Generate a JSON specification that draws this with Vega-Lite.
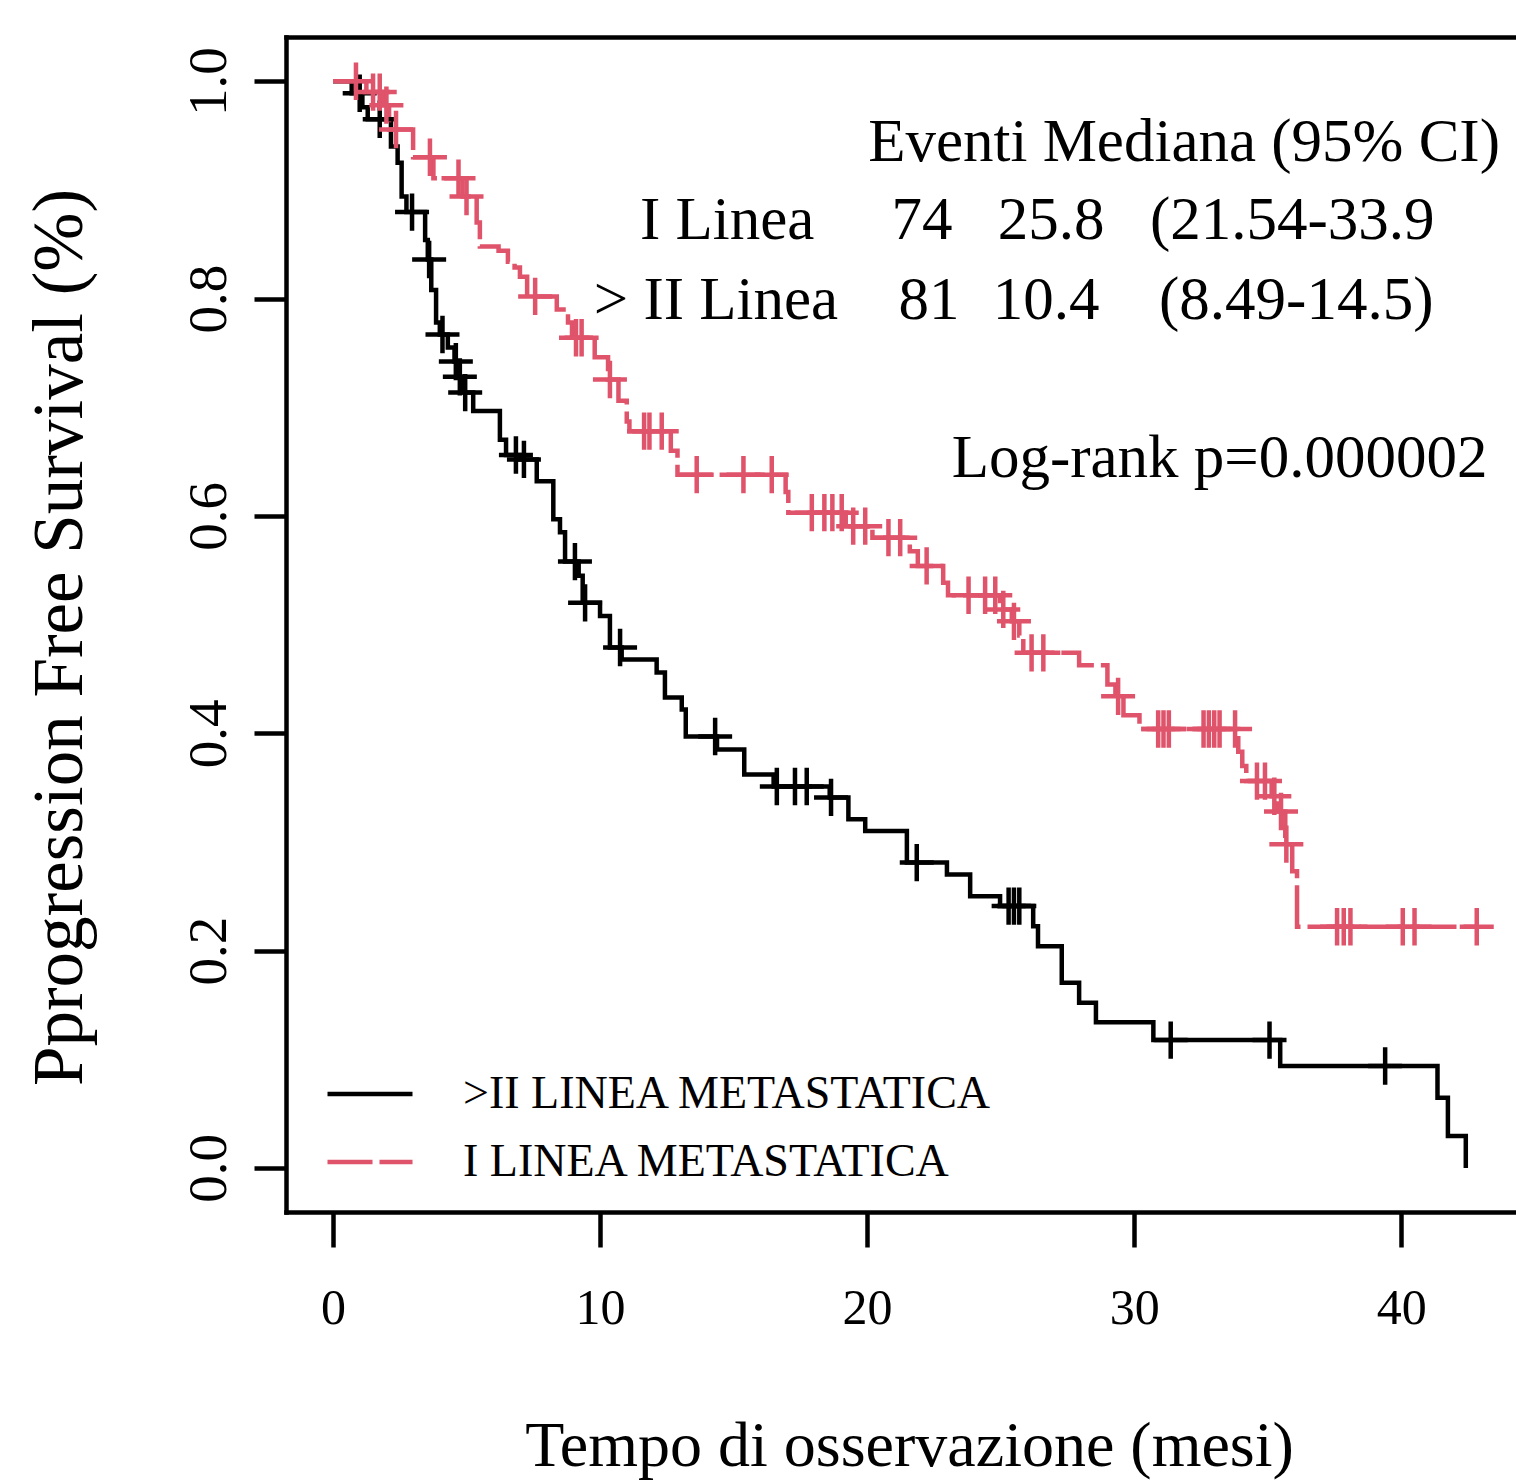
{
  "$schema": "https://vega.github.io/schema/vega-lite/v6.json",
  "width": 1230,
  "height": 1175,
  "autosize": {"type": "none"},
  "padding": {"left": 286, "top": 37, "right": 0, "bottom": 271},
  "background": "white",
  "config": {"view": {"stroke": null}, "font": "Liberation Serif"},
  "datasets": {
    "km": [
      {"grp": ">II LINEA METASTATICA", "t": 0, "s": 1},
      {"grp": ">II LINEA METASTATICA", "t": 0.7, "s": 0.989},
      {"grp": ">II LINEA METASTATICA", "t": 1.1, "s": 0.976},
      {"grp": ">II LINEA METASTATICA", "t": 1.3, "s": 0.965},
      {"grp": ">II LINEA METASTATICA", "t": 2.17, "s": 0.94},
      {"grp": ">II LINEA METASTATICA", "t": 2.42, "s": 0.925},
      {"grp": ">II LINEA METASTATICA", "t": 2.57, "s": 0.894},
      {"grp": ">II LINEA METASTATICA", "t": 2.75, "s": 0.8796},
      {"grp": ">II LINEA METASTATICA", "t": 3.45, "s": 0.854},
      {"grp": ">II LINEA METASTATICA", "t": 3.55, "s": 0.836},
      {"grp": ">II LINEA METASTATICA", "t": 3.68, "s": 0.808},
      {"grp": ">II LINEA METASTATICA", "t": 3.86, "s": 0.778},
      {"grp": ">II LINEA METASTATICA", "t": 4.0, "s": 0.767},
      {"grp": ">II LINEA METASTATICA", "t": 4.3, "s": 0.755},
      {"grp": ">II LINEA METASTATICA", "t": 4.55, "s": 0.742},
      {"grp": ">II LINEA METASTATICA", "t": 4.7, "s": 0.728},
      {"grp": ">II LINEA METASTATICA", "t": 4.85, "s": 0.7135},
      {"grp": ">II LINEA METASTATICA", "t": 5.25, "s": 0.6965},
      {"grp": ">II LINEA METASTATICA", "t": 6.25, "s": 0.67},
      {"grp": ">II LINEA METASTATICA", "t": 6.48, "s": 0.656},
      {"grp": ">II LINEA METASTATICA", "t": 7.0, "s": 0.652},
      {"grp": ">II LINEA METASTATICA", "t": 7.63, "s": 0.632},
      {"grp": ">II LINEA METASTATICA", "t": 8.25, "s": 0.597},
      {"grp": ">II LINEA METASTATICA", "t": 8.5, "s": 0.585},
      {"grp": ">II LINEA METASTATICA", "t": 8.69, "s": 0.558},
      {"grp": ">II LINEA METASTATICA", "t": 9.2, "s": 0.545},
      {"grp": ">II LINEA METASTATICA", "t": 9.35, "s": 0.52},
      {"grp": ">II LINEA METASTATICA", "t": 10.0, "s": 0.508},
      {"grp": ">II LINEA METASTATICA", "t": 10.37, "s": 0.479},
      {"grp": ">II LINEA METASTATICA", "t": 10.81, "s": 0.468},
      {"grp": ">II LINEA METASTATICA", "t": 12.12, "s": 0.456},
      {"grp": ">II LINEA METASTATICA", "t": 12.43, "s": 0.433},
      {"grp": ">II LINEA METASTATICA", "t": 13.06, "s": 0.422},
      {"grp": ">II LINEA METASTATICA", "t": 13.21, "s": 0.397},
      {"grp": ">II LINEA METASTATICA", "t": 14.38, "s": 0.385},
      {"grp": ">II LINEA METASTATICA", "t": 15.4, "s": 0.362},
      {"grp": ">II LINEA METASTATICA", "t": 16.5, "s": 0.351},
      {"grp": ">II LINEA METASTATICA", "t": 18.6, "s": 0.341},
      {"grp": ">II LINEA METASTATICA", "t": 19.3, "s": 0.321},
      {"grp": ">II LINEA METASTATICA", "t": 19.93, "s": 0.31},
      {"grp": ">II LINEA METASTATICA", "t": 21.49, "s": 0.281},
      {"grp": ">II LINEA METASTATICA", "t": 22.99, "s": 0.27},
      {"grp": ">II LINEA METASTATICA", "t": 23.86, "s": 0.25},
      {"grp": ">II LINEA METASTATICA", "t": 24.98, "s": 0.241},
      {"grp": ">II LINEA METASTATICA", "t": 26.22, "s": 0.2225},
      {"grp": ">II LINEA METASTATICA", "t": 26.4, "s": 0.204},
      {"grp": ">II LINEA METASTATICA", "t": 27.29, "s": 0.1705},
      {"grp": ">II LINEA METASTATICA", "t": 27.94, "s": 0.152},
      {"grp": ">II LINEA METASTATICA", "t": 28.57, "s": 0.134},
      {"grp": ">II LINEA METASTATICA", "t": 30.72, "s": 0.1177},
      {"grp": ">II LINEA METASTATICA", "t": 35.47, "s": 0.0938},
      {"grp": ">II LINEA METASTATICA", "t": 41.36, "s": 0.0647},
      {"grp": ">II LINEA METASTATICA", "t": 41.75, "s": 0.0294},
      {"grp": ">II LINEA METASTATICA", "t": 42.42, "s": 0},
      {"grp": "I LINEA METASTATICA", "t": 0, "s": 1},
      {"grp": "I LINEA METASTATICA", "t": 1.25, "s": 0.99},
      {"grp": "I LINEA METASTATICA", "t": 1.9, "s": 0.978},
      {"grp": "I LINEA METASTATICA", "t": 2.1, "s": 0.9556},
      {"grp": "I LINEA METASTATICA", "t": 3.0, "s": 0.93},
      {"grp": "I LINEA METASTATICA", "t": 3.76, "s": 0.9107},
      {"grp": "I LINEA METASTATICA", "t": 4.85, "s": 0.894},
      {"grp": "I LINEA METASTATICA", "t": 5.38, "s": 0.87},
      {"grp": "I LINEA METASTATICA", "t": 5.5, "s": 0.848},
      {"grp": "I LINEA METASTATICA", "t": 6.2, "s": 0.844},
      {"grp": "I LINEA METASTATICA", "t": 6.55, "s": 0.834},
      {"grp": "I LINEA METASTATICA", "t": 6.8, "s": 0.8286},
      {"grp": "I LINEA METASTATICA", "t": 7.0, "s": 0.82},
      {"grp": "I LINEA METASTATICA", "t": 7.27, "s": 0.802},
      {"grp": "I LINEA METASTATICA", "t": 8.38, "s": 0.79},
      {"grp": "I LINEA METASTATICA", "t": 8.8, "s": 0.778},
      {"grp": "I LINEA METASTATICA", "t": 8.95, "s": 0.764},
      {"grp": "I LINEA METASTATICA", "t": 9.8, "s": 0.746},
      {"grp": "I LINEA METASTATICA", "t": 10.3, "s": 0.7256},
      {"grp": "I LINEA METASTATICA", "t": 10.69, "s": 0.706},
      {"grp": "I LINEA METASTATICA", "t": 11.0, "s": 0.687},
      {"grp": "I LINEA METASTATICA", "t": 11.1, "s": 0.678},
      {"grp": "I LINEA METASTATICA", "t": 12.65, "s": 0.66},
      {"grp": "I LINEA METASTATICA", "t": 12.9, "s": 0.638},
      {"grp": "I LINEA METASTATICA", "t": 16.95, "s": 0.622},
      {"grp": "I LINEA METASTATICA", "t": 17.05, "s": 0.603},
      {"grp": "I LINEA METASTATICA", "t": 19.2, "s": 0.5906},
      {"grp": "I LINEA METASTATICA", "t": 20.2, "s": 0.58},
      {"grp": "I LINEA METASTATICA", "t": 21.6, "s": 0.5676},
      {"grp": "I LINEA METASTATICA", "t": 21.9, "s": 0.554},
      {"grp": "I LINEA METASTATICA", "t": 22.85, "s": 0.5386},
      {"grp": "I LINEA METASTATICA", "t": 23.03, "s": 0.527},
      {"grp": "I LINEA METASTATICA", "t": 24.98, "s": 0.514},
      {"grp": "I LINEA METASTATICA", "t": 25.42, "s": 0.503},
      {"grp": "I LINEA METASTATICA", "t": 25.7, "s": 0.49},
      {"grp": "I LINEA METASTATICA", "t": 25.85, "s": 0.474},
      {"grp": "I LINEA METASTATICA", "t": 27.94, "s": 0.4625},
      {"grp": "I LINEA METASTATICA", "t": 29.0, "s": 0.445},
      {"grp": "I LINEA METASTATICA", "t": 29.3, "s": 0.434},
      {"grp": "I LINEA METASTATICA", "t": 29.6, "s": 0.4165},
      {"grp": "I LINEA METASTATICA", "t": 30.2, "s": 0.404},
      {"grp": "I LINEA METASTATICA", "t": 33.9, "s": 0.383},
      {"grp": "I LINEA METASTATICA", "t": 34.05, "s": 0.37},
      {"grp": "I LINEA METASTATICA", "t": 34.2, "s": 0.356},
      {"grp": "I LINEA METASTATICA", "t": 35.15, "s": 0.342},
      {"grp": "I LINEA METASTATICA", "t": 35.35, "s": 0.328},
      {"grp": "I LINEA METASTATICA", "t": 35.66, "s": 0.298},
      {"grp": "I LINEA METASTATICA", "t": 35.92, "s": 0.273},
      {"grp": "I LINEA METASTATICA", "t": 36.1, "s": 0.222},
      {"grp": "I LINEA METASTATICA", "t": 42.83, "s": 0.222}
    ],
    "cens": [
      {"grp": ">II LINEA METASTATICA", "t": 1.0, "s": 0.989},
      {"grp": ">II LINEA METASTATICA", "t": 1.75, "s": 0.965},
      {"grp": ">II LINEA METASTATICA", "t": 2.96, "s": 0.8796},
      {"grp": ">II LINEA METASTATICA", "t": 3.6, "s": 0.836},
      {"grp": ">II LINEA METASTATICA", "t": 4.1, "s": 0.767},
      {"grp": ">II LINEA METASTATICA", "t": 4.6, "s": 0.742},
      {"grp": ">II LINEA METASTATICA", "t": 4.75, "s": 0.728},
      {"grp": ">II LINEA METASTATICA", "t": 4.95, "s": 0.7135},
      {"grp": ">II LINEA METASTATICA", "t": 6.85, "s": 0.656},
      {"grp": ">II LINEA METASTATICA", "t": 7.15, "s": 0.652},
      {"grp": ">II LINEA METASTATICA", "t": 9.06, "s": 0.558},
      {"grp": ">II LINEA METASTATICA", "t": 9.44, "s": 0.52},
      {"grp": ">II LINEA METASTATICA", "t": 10.75, "s": 0.479},
      {"grp": ">II LINEA METASTATICA", "t": 14.31, "s": 0.397},
      {"grp": ">II LINEA METASTATICA", "t": 16.62, "s": 0.351},
      {"grp": ">II LINEA METASTATICA", "t": 17.3, "s": 0.351},
      {"grp": ">II LINEA METASTATICA", "t": 17.74, "s": 0.351},
      {"grp": ">II LINEA METASTATICA", "t": 18.65, "s": 0.341},
      {"grp": ">II LINEA METASTATICA", "t": 21.86, "s": 0.281},
      {"grp": ">II LINEA METASTATICA", "t": 25.3, "s": 0.241},
      {"grp": ">II LINEA METASTATICA", "t": 25.5, "s": 0.241},
      {"grp": ">II LINEA METASTATICA", "t": 25.7, "s": 0.241},
      {"grp": ">II LINEA METASTATICA", "t": 31.37, "s": 0.1177},
      {"grp": ">II LINEA METASTATICA", "t": 35.07, "s": 0.1177},
      {"grp": ">II LINEA METASTATICA", "t": 39.4, "s": 0.0938},
      {"grp": "I LINEA METASTATICA", "t": 0.86, "s": 1.0},
      {"grp": "I LINEA METASTATICA", "t": 1.5, "s": 0.99},
      {"grp": "I LINEA METASTATICA", "t": 1.75, "s": 0.99},
      {"grp": "I LINEA METASTATICA", "t": 2.0, "s": 0.978},
      {"grp": "I LINEA METASTATICA", "t": 2.36, "s": 0.9556},
      {"grp": "I LINEA METASTATICA", "t": 3.63, "s": 0.93},
      {"grp": "I LINEA METASTATICA", "t": 4.7, "s": 0.9107},
      {"grp": "I LINEA METASTATICA", "t": 5.0, "s": 0.894},
      {"grp": "I LINEA METASTATICA", "t": 7.57, "s": 0.802},
      {"grp": "I LINEA METASTATICA", "t": 9.1, "s": 0.764},
      {"grp": "I LINEA METASTATICA", "t": 9.31, "s": 0.764},
      {"grp": "I LINEA METASTATICA", "t": 10.37, "s": 0.7256},
      {"grp": "I LINEA METASTATICA", "t": 11.65, "s": 0.678},
      {"grp": "I LINEA METASTATICA", "t": 11.85, "s": 0.678},
      {"grp": "I LINEA METASTATICA", "t": 12.31, "s": 0.678},
      {"grp": "I LINEA METASTATICA", "t": 13.62, "s": 0.638},
      {"grp": "I LINEA METASTATICA", "t": 15.37, "s": 0.638},
      {"grp": "I LINEA METASTATICA", "t": 16.43, "s": 0.638},
      {"grp": "I LINEA METASTATICA", "t": 17.93, "s": 0.603},
      {"grp": "I LINEA METASTATICA", "t": 18.4, "s": 0.603},
      {"grp": "I LINEA METASTATICA", "t": 18.7, "s": 0.603},
      {"grp": "I LINEA METASTATICA", "t": 19.05, "s": 0.603},
      {"grp": "I LINEA METASTATICA", "t": 19.48, "s": 0.5906},
      {"grp": "I LINEA METASTATICA", "t": 19.93, "s": 0.5906},
      {"grp": "I LINEA METASTATICA", "t": 20.8, "s": 0.58},
      {"grp": "I LINEA METASTATICA", "t": 21.24, "s": 0.58},
      {"grp": "I LINEA METASTATICA", "t": 22.23, "s": 0.554},
      {"grp": "I LINEA METASTATICA", "t": 23.8, "s": 0.527},
      {"grp": "I LINEA METASTATICA", "t": 24.42, "s": 0.527},
      {"grp": "I LINEA METASTATICA", "t": 24.8, "s": 0.527},
      {"grp": "I LINEA METASTATICA", "t": 25.1, "s": 0.514},
      {"grp": "I LINEA METASTATICA", "t": 25.5, "s": 0.503},
      {"grp": "I LINEA METASTATICA", "t": 26.16, "s": 0.474},
      {"grp": "I LINEA METASTATICA", "t": 26.6, "s": 0.474},
      {"grp": "I LINEA METASTATICA", "t": 29.4, "s": 0.434},
      {"grp": "I LINEA METASTATICA", "t": 30.9, "s": 0.404},
      {"grp": "I LINEA METASTATICA", "t": 31.1, "s": 0.404},
      {"grp": "I LINEA METASTATICA", "t": 31.3, "s": 0.404},
      {"grp": "I LINEA METASTATICA", "t": 32.6, "s": 0.404},
      {"grp": "I LINEA METASTATICA", "t": 32.8, "s": 0.404},
      {"grp": "I LINEA METASTATICA", "t": 33.0, "s": 0.404},
      {"grp": "I LINEA METASTATICA", "t": 33.2, "s": 0.404},
      {"grp": "I LINEA METASTATICA", "t": 33.78, "s": 0.404},
      {"grp": "I LINEA METASTATICA", "t": 34.6, "s": 0.356},
      {"grp": "I LINEA METASTATICA", "t": 34.9, "s": 0.356},
      {"grp": "I LINEA METASTATICA", "t": 35.25, "s": 0.342},
      {"grp": "I LINEA METASTATICA", "t": 35.5, "s": 0.328},
      {"grp": "I LINEA METASTATICA", "t": 35.7, "s": 0.298},
      {"grp": "I LINEA METASTATICA", "t": 37.6, "s": 0.222},
      {"grp": "I LINEA METASTATICA", "t": 37.85, "s": 0.222},
      {"grp": "I LINEA METASTATICA", "t": 38.1, "s": 0.222},
      {"grp": "I LINEA METASTATICA", "t": 40.06, "s": 0.222},
      {"grp": "I LINEA METASTATICA", "t": 40.5, "s": 0.222},
      {"grp": "I LINEA METASTATICA", "t": 42.83, "s": 0.222}
    ]
  },
  "layer": [
    {
      "data": {"name": "km"},
      "mark": {"type": "line", "interpolate": "step-after", "strokeWidth": 4.5},
      "encoding": {
        "x": {
          "field": "t", "type": "quantitative",
          "scale": {"domain": [-1.76, 44.3], "nice": false, "zero": false},
          "axis": {
            "values": [0, 10, 20, 30, 40],
            "title": "Tempo di osservazione (mesi)",
            "grid": false,
            "domainColor": "black", "domainWidth": 4.5, "domainCap": "square",
            "tickColor": "black", "tickWidth": 4.5, "tickSize": 35,
            "labelFont": "Liberation Serif", "labelFontSize": 50, "labelColor": "black",
            "labelPadding": 36, "labelBaseline": "top", "labelFlush": false,
            "titleFont": "Liberation Serif", "titleFontSize": 64, "titleFontWeight": "normal", "titleColor": "black",
            "titleX": 623, "titleY": 253, "titleAlign": "center", "titleBaseline": "alphabetic"
          }
        },
        "y": {
          "field": "s", "type": "quantitative",
          "scale": {"domain": [-0.0405, 1.0407], "nice": false, "zero": false},
          "axis": {
            "values": [0, 0.2, 0.4, 0.6, 0.8, 1],
            "format": ".1f",
            "title": "Pprogression Free Survival (%)",
            "grid": false,
            "domainColor": "black", "domainWidth": 4.5, "domainCap": "square",
            "tickColor": "black", "tickWidth": 4.5, "tickSize": 32,
            "labelFont": "Liberation Serif", "labelFontSize": 55, "labelColor": "black",
            "labelAngle": 270, "labelAlign": "center", "labelBaseline": "alphabetic",
            "labelPadding": 29, "labelFlush": false, "labelOverlap": false,
            "titleFont": "Liberation Serif", "titleFontSize": 71, "titleFontWeight": "normal", "titleColor": "black",
            "titleAngle": 270, "titleX": -226, "titleY": 600, "titleAlign": "center", "titleBaseline": "middle"
          }
        },
        "color": {
          "field": "grp", "type": "nominal",
          "scale": {"domain": [">II LINEA METASTATICA", "I LINEA METASTATICA"], "range": ["black", "#DF536B"]},
          "legend": {
            "title": null, "orient": "none", "legendX": 39, "legendY": 1012,
            "symbolType": "stroke", "symbolSize": 7225, "symbolStrokeWidth": 4.5,
            "labelFont": "Liberation Serif", "labelFontSize": 46, "labelColor": "black", "labelLimit": 0,
            "labelOffset": 48, "rowPadding": -5, "padding": 0
          }
        },
        "strokeDash": {
          "field": "grp", "type": "nominal",
          "scale": {"domain": [">II LINEA METASTATICA", "I LINEA METASTATICA"], "range": [[1, 0], [45, 7]]},
          "legend": {
            "title": null, "orient": "none", "legendX": 39, "legendY": 1012,
            "symbolType": "stroke", "symbolSize": 7225, "symbolStrokeWidth": 4.5,
            "labelFont": "Liberation Serif", "labelFontSize": 46, "labelColor": "black", "labelLimit": 0,
            "labelOffset": 48, "rowPadding": -5, "padding": 0
          }
        }
      }
    },
    {
      "data": {"name": "cens"},
      "transform": [{"filter": "datum.grp === '>II LINEA METASTATICA'"}],
      "mark": {"type": "point", "shape": "M-1,0H1M0,-1.1V1.1", "size": 1156, "filled": false, "strokeWidth": 4.5, "color": "black", "opacity": 1},
      "encoding": {
        "x": {"field": "t", "type": "quantitative",
              "axis": {"orient": "top", "domain": true, "ticks": false, "labels": false, "grid": false, "title": null,
                       "domainColor": "black", "domainWidth": 4.5, "domainCap": "square"}},
        "y": {"field": "s", "type": "quantitative"}
      }
    },
    {
      "data": {"name": "cens"},
      "transform": [{"filter": "datum.grp === 'I LINEA METASTATICA'"}],
      "mark": {"type": "point", "shape": "M-1,0H1M0,-1.1V1.1", "size": 1156, "filled": false, "strokeWidth": 4.5, "color": "#DF536B", "opacity": 1},
      "encoding": {
        "x": {"field": "t", "type": "quantitative", "axis": null},
        "y": {"field": "s", "type": "quantitative"}
      }
    },
    {
      "data": {"values": [{"label": "Eventi Mediana (95% CI)"}]},
      "mark": {"type": "text", "font": "Liberation Serif", "fontSize": 61, "align": "center", "baseline": "alphabetic", "color": "black"},
      "encoding": {"x": {"datum": 31.87, "type": "quantitative", "axis": null}, "y": {"datum": 0.9262, "type": "quantitative"}, "text": {"field": "label"}}
    },
    {
      "data": {"values": [{"label": "I Linea"}]},
      "mark": {"type": "text", "font": "Liberation Serif", "fontSize": 61, "align": "center", "baseline": "alphabetic", "color": "black"},
      "encoding": {"x": {"datum": 14.76, "type": "quantitative", "axis": null}, "y": {"datum": 0.8544, "type": "quantitative"}, "text": {"field": "label"}}
    },
    {
      "data": {"values": [{"label": "74"}]},
      "mark": {"type": "text", "font": "Liberation Serif", "fontSize": 61, "align": "center", "baseline": "alphabetic", "color": "black"},
      "encoding": {"x": {"datum": 22.06, "type": "quantitative", "axis": null}, "y": {"datum": 0.8544, "type": "quantitative"}, "text": {"field": "label"}}
    },
    {
      "data": {"values": [{"label": "25.8"}]},
      "mark": {"type": "text", "font": "Liberation Serif", "fontSize": 61, "align": "center", "baseline": "alphabetic", "color": "black"},
      "encoding": {"x": {"datum": 26.89, "type": "quantitative", "axis": null}, "y": {"datum": 0.8544, "type": "quantitative"}, "text": {"field": "label"}}
    },
    {
      "data": {"values": [{"label": "(21.54-33.9"}]},
      "mark": {"type": "text", "font": "Liberation Serif", "fontSize": 61, "align": "center", "baseline": "alphabetic", "color": "black"},
      "encoding": {"x": {"datum": 35.92, "type": "quantitative", "axis": null}, "y": {"datum": 0.8544, "type": "quantitative"}, "text": {"field": "label"}}
    },
    {
      "data": {"values": [{"label": "> II Linea"}]},
      "mark": {"type": "text", "font": "Liberation Serif", "fontSize": 61, "align": "center", "baseline": "alphabetic", "color": "black"},
      "encoding": {"x": {"datum": 14.34, "type": "quantitative", "axis": null}, "y": {"datum": 0.7808, "type": "quantitative"}, "text": {"field": "label"}}
    },
    {
      "data": {"values": [{"label": "81"}]},
      "mark": {"type": "text", "font": "Liberation Serif", "fontSize": 61, "align": "center", "baseline": "alphabetic", "color": "black"},
      "encoding": {"x": {"datum": 22.32, "type": "quantitative", "axis": null}, "y": {"datum": 0.7808, "type": "quantitative"}, "text": {"field": "label"}}
    },
    {
      "data": {"values": [{"label": "10.4"}]},
      "mark": {"type": "text", "font": "Liberation Serif", "fontSize": 61, "align": "center", "baseline": "alphabetic", "color": "black"},
      "encoding": {"x": {"datum": 26.7, "type": "quantitative", "axis": null}, "y": {"datum": 0.7808, "type": "quantitative"}, "text": {"field": "label"}}
    },
    {
      "data": {"values": [{"label": "(8.49-14.5)"}]},
      "mark": {"type": "text", "font": "Liberation Serif", "fontSize": 61, "align": "center", "baseline": "alphabetic", "color": "black"},
      "encoding": {"x": {"datum": 36.07, "type": "quantitative", "axis": null}, "y": {"datum": 0.7808, "type": "quantitative"}, "text": {"field": "label"}}
    },
    {
      "data": {"values": [{"label": "Log-rank p=0.000002"}]},
      "mark": {"type": "text", "font": "Liberation Serif", "fontSize": 61, "align": "center", "baseline": "alphabetic", "color": "black"},
      "encoding": {"x": {"datum": 33.2, "type": "quantitative", "axis": null}, "y": {"datum": 0.6355, "type": "quantitative"}, "text": {"field": "label"}}
    }
  ],
  "resolve": {"axis": {"x": "independent"}}
}
